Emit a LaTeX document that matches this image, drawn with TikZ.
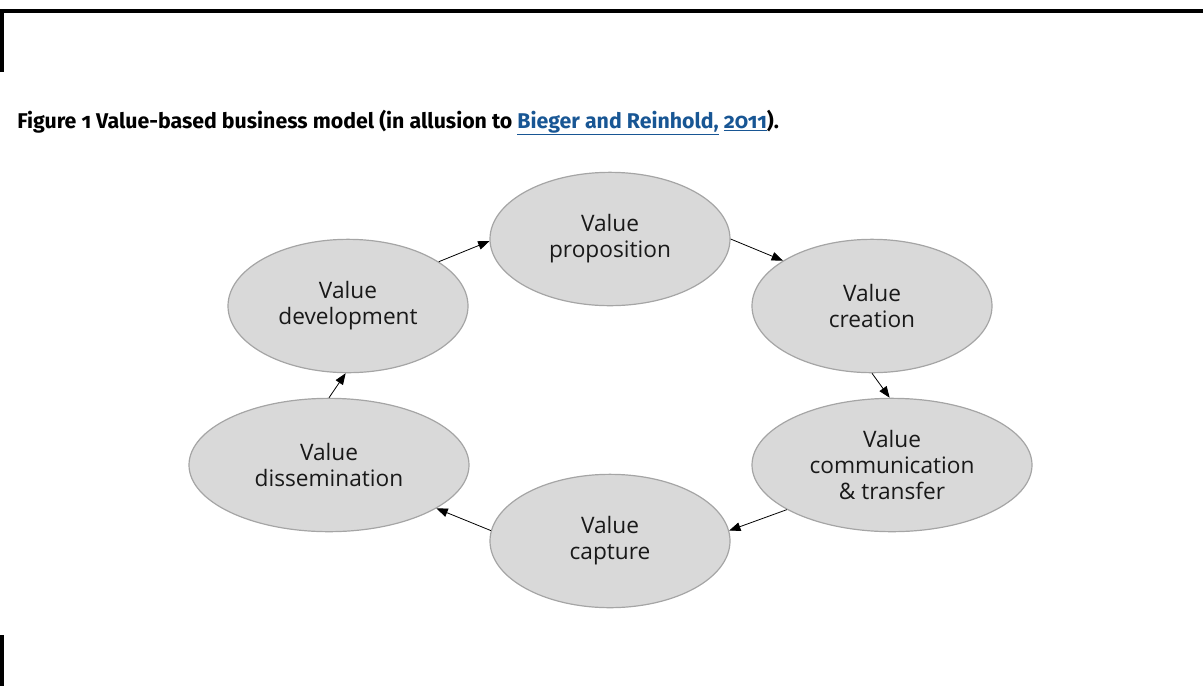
\documentclass[tikz,border=0pt]{standalone}
\usepackage{fontspec}
\setmainfont{Open Sans}
\newfontfamily\capfont[Numbers=OldStyle]{Fira Sans}
\usetikzlibrary{arrows.meta,shapes.geometric}
\definecolor{cloud}{RGB}{217,217,217}
\definecolor{rim}{RGB}{165,165,165}
\definecolor{ink}{RGB}{25,25,25}
\definecolor{cite}{RGB}{24,86,148}
\tikzset{
  >={Triangle[length=8.5pt,width=6.5pt]},
  stage/.style={ellipse,draw=rim,fill=cloud,line width=0.9pt,inner sep=0pt,
    minimum width=180pt,minimum height=100pt,align=center,text=ink,
    font=\fontsize{17}{19.5}\selectfont},
  wide stage/.style={stage,minimum width=210pt},
  flow/.style={->,draw=black,line width=0.6pt},
  rule/.style={line width=3pt,draw=black},
}

\begin{document}
\begin{tikzpicture}[x=0.75pt,y=-0.75pt]
  \useasboundingbox (0,0) rectangle (1203,686);
  % page frame pieces
  \draw[rule] (2,72) -- (2,11.3) -- (1203,11.3);
  \draw[rule] (2,635) -- (2,686);
  % caption
  \node[anchor=base west,inner sep=0pt,font=\capfont\bfseries\fontsize{16}{18}\selectfont] (caption) at (17,128)
    {Figure 1 Value-based business model (in allusion to {\color{cite}\underline{Bieger and Reinhold,}} {\color{cite}\underline{2011}}).};
  % the six value stages
  \node[stage] (prop) at (610,239) {Value\\proposition};
  \node[stage] (crea) at (872,306) {Value\\creation};
  \node[wide stage] (comm) at (892,465) {Value\\communication\\\& transfer};
  \node[stage] (capt) at (610,541) {Value\\capture};
  \node[wide stage] (diss) at (329,465) {Value\\dissemination};
  \node[stage] (dev) at (348,306) {Value\\development};
  % cycle arrows
  \foreach \a/\s/\b/\t in {dev/26/prop/181, prop/0/crea/153, crea/-90/comm/92,
      comm/203/capt/5, capt/175/diss/-22, diss/90/dev/268}
    \draw[flow] (\a.\s) -- (\b.\t);
\end{tikzpicture}
\end{document}
